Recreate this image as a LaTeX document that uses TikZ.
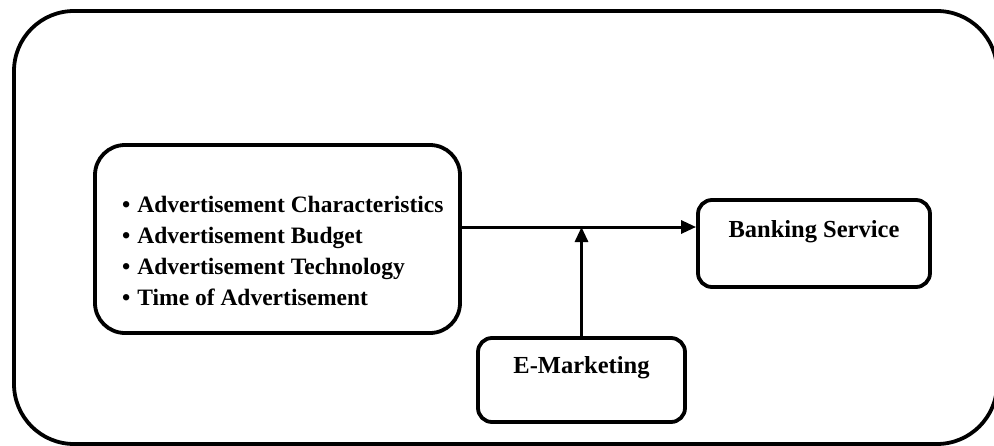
\documentclass[tikz,border=0pt]{standalone}
\usepackage{fontspec}
\setmainfont{Liberation Serif}
\usepackage{tikz}
\usetikzlibrary{arrows.meta,positioning}

\begin{document}
\begin{tikzpicture}[x=1pt,y=-1pt,>={Triangle[length=15pt,width=13pt]},
  font=\bfseries\fontsize{24.5}{31}\selectfont,
  box/.style={draw,line width=3.8pt,rounded corners=14pt,inner sep=0pt},
  link/.style={->,line width=3pt}]
\useasboundingbox (0,0) rectangle (994,445);
% frame round the whole model
\draw[line width=3.8pt,rounded corners=60pt] (14,11) rectangle (997,444);
\node[box,rounded corners=30pt,minimum width=365pt,minimum height=188pt] (factors) at (277.5,239) {};
\node[anchor=north west,inner sep=0pt,align=left,font=\bfseries\fontsize{23.5}{31}\selectfont] (items) at (122,196)
  {\textbullet\hspace{7pt}Advertisement Characteristics\\
   \textbullet\hspace{7pt}Advertisement Budget\\
   \textbullet\hspace{7pt}Advertisement Technology\\
   \textbullet\hspace{7pt}Time of Advertisement};
\node[box,minimum width=232pt,text height=37pt,text depth=50pt] (bank) at (814,243.5) {Banking Service};
\node[box,minimum width=207pt,text height=35pt,text depth=49pt] (emkt) at (581.5,380) {E-Marketing};
\coordinate (join) at (581.5,227);
\draw[link] (factors.east |- join) -- (bank.west |- join);
\draw[link] (emkt.north) -- (join);
\end{tikzpicture}
\end{document}
